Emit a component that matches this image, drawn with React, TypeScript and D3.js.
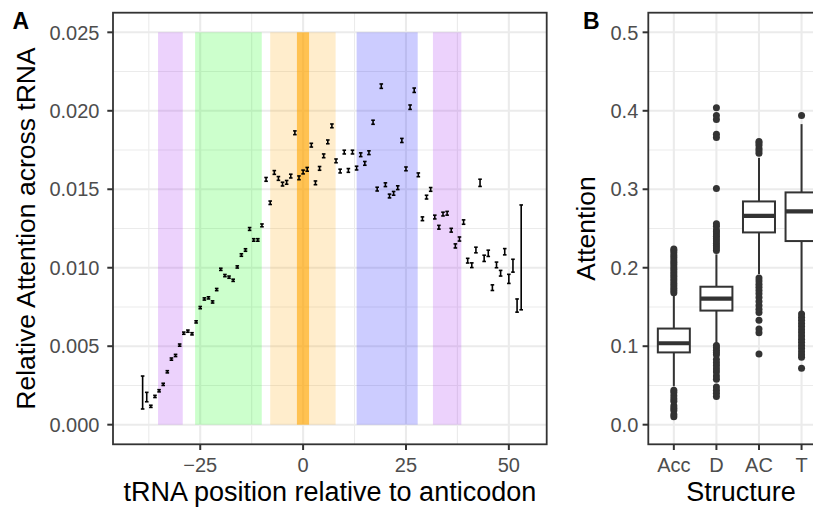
import React from 'react';
import * as d3 from 'd3';

const W = 813;
const H = 507;

// ---------- Panel A data ----------
const positionStart = -39;
const relAttention = [
  0.00205, 0.00176, 0.00117, 0.0018, 0.00216, 0.00257, 0.00337, 0.00418, 0.00441, 0.00507,
  0.00583, 0.00596, 0.00579, 0.00655, 0.00746, 0.00801, 0.00808, 0.00782, 0.00861, 0.0099,
  0.0095, 0.0094, 0.0092, 0.01005, 0.01081, 0.01113, 0.01247, 0.01177, 0.01177, 0.0127,
  0.01563, 0.01414, 0.01607, 0.01569, 0.01533, 0.01544, 0.01584, 0.0186, 0.01573, 0.0161,
  0.01627, 0.01781, 0.01541, 0.01633, 0.01713, 0.01802, 0.01904, 0.01681, 0.01616, 0.01737,
  0.0162, 0.01737, 0.01635, 0.0172, 0.01665, 0.01733, 0.01927, 0.01501, 0.02157, 0.01529,
  0.01457, 0.01474, 0.0151, 0.01811, 0.0163, 0.02023, 0.02131, 0.01592, 0.01312, 0.0145,
  0.01499, 0.01323, 0.01258, 0.01342, 0.01347, 0.01239, 0.01139, 0.01183, 0.01291, 0.01045,
  0.01016, 0.01113, 0.01541, 0.0106, 0.01092, 0.00873, 0.01018, 0.00965, 0.01102, 0.00929,
  0.01013, 0.00759, 0.01066,
];
const relError = [
  0.00105, 0.0003, 0.00007, 0.00007, 0.00007, 0.00007, 0.00007, 0.00007, 0.00007, 0.00007,
  0.00007, 0.00007, 0.00007, 0.00007, 0.00007, 0.00007, 0.00007, 0.00007, 0.00007, 0.00007,
  0.00007, 0.00007, 0.00007, 0.00007, 0.00008, 0.00008, 0.00009, 0.00008, 0.00008, 0.00009,
  0.00012, 0.00011, 0.00012, 0.00012, 0.00012, 0.00012, 0.00012, 0.00012, 0.00012, 0.00012,
  0.00012, 0.00012, 0.00012, 0.00012, 0.00012, 0.00012, 0.00012, 0.00012, 0.00012, 0.00012,
  0.00012, 0.00012, 0.00012, 0.00012, 0.00012, 0.00012, 0.00013, 0.00012, 0.00014, 0.00012,
  0.00012, 0.00012, 0.00012, 0.00013, 0.00012, 0.00014, 0.00014, 0.00012, 0.00012, 0.00012,
  0.00012, 0.00012, 0.00012, 0.00012, 0.00012, 0.00012, 0.00013, 0.00013, 0.00014, 0.00015,
  0.00015, 0.00018, 0.00023, 0.0002, 0.0002, 0.00018, 0.00018, 0.00018, 0.0002, 0.00029,
  0.00041, 0.00042, 0.00334,
];

const xTicksA = [-25, 0, 25, 50];
const xMinorA = [-37.5, -12.5, 12.5, 37.5];
const yTicksA = [0, 0.005, 0.01, 0.015, 0.02, 0.025];
const yMinorA = [0.0025, 0.0075, 0.0125, 0.0175, 0.0225];

// shaded structural regions
const regionStart = [-35.25, -26.25, -8.0, -1.5, 13.0, 31.55];
const regionEnd = [-29.25, -10.05, 7.9, 1.45, 27.85, 38.45];
const regionColor = ['#a020f0', '#00ff00', '#ffa500', '#ffa500', '#0000ff', '#a020f0'];
const regionAlpha = [0.2, 0.2, 0.2, 0.6, 0.2, 0.2];
const regionTop = 0.025;
const regionBottom = 0;

// ---------- Panel B data ----------
const structures = ['Acc', 'D', 'AC', 'T'];
const q1 = [0.0921, 0.1454, 0.245, 0.234];
const median = [0.1038, 0.1607, 0.2662, 0.2718];
const q3 = [0.1225, 0.1758, 0.2845, 0.296];
const whiskerLow = [0.049, 0.104, 0.192, 0.1445];
const whiskerHigh = [0.1645, 0.217, 0.34, 0.383];
const accOutliers = [0.010, 0.013, 0.018, 0.021, 0.024, 0.030, 0.033, 0.037, 0.041, 0.044,
  0.168, 0.171, 0.174, 0.177, 0.180, 0.183, 0.186, 0.189, 0.192, 0.195, 0.198, 0.201, 0.204,
  0.207, 0.210, 0.213, 0.216, 0.219, 0.222, 0.224];
const dOutliers = [0.036, 0.040, 0.044, 0.048, 0.058, 0.062, 0.067, 0.071, 0.075, 0.079,
  0.083, 0.089, 0.092, 0.095, 0.098, 0.101, 0.222, 0.225, 0.228, 0.231, 0.234, 0.237, 0.240,
  0.243, 0.246, 0.248, 0.253, 0.256, 0.301, 0.366, 0.370, 0.389, 0.394, 0.404];
const acOutliers = [0.090, 0.117, 0.122, 0.133, 0.143, 0.147, 0.152, 0.157, 0.162, 0.167,
  0.171, 0.175, 0.179, 0.183, 0.187, 0.346, 0.349, 0.352, 0.356, 0.359, 0.361];
const tOutliers = [0.072, 0.086, 0.089, 0.093, 0.097, 0.101, 0.105, 0.109, 0.113, 0.117,
  0.121, 0.125, 0.129, 0.133, 0.137, 0.141, 0.394];
const outliers = [accOutliers, dOutliers, acOutliers, tOutliers];

const yTicksB = [0, 0.1, 0.2, 0.3, 0.4, 0.5];
const yMinorB = [0.05, 0.15, 0.25, 0.35, 0.45];

// ---------- layout ----------
const A = { left: 113, right: 546.7, top: 12.7, bottom: 444.3 };
const B = { left: 648.3, right: 827.1, top: 12.7, bottom: 444.3 };
const FONT = '"Liberation Sans", Arial, Helvetica, sans-serif';
const GRID = '#ebebeb';
const DARK = '#333333';
const TICKTXT = '#4d4d4d';

export default function App() {
  const xA = d3.scaleLinear().domain([-46.2, 59.2]).range([A.left, A.right]);
  const yA = d3.scaleLinear().domain([-0.00125, 0.02625]).range([A.bottom, A.top]);
  const xB = d3.scalePoint<string>().domain(structures).range([B.left, B.right]).padding(0.6);
  const yB = d3.scaleLinear().domain([-0.025, 0.525]).range([B.bottom, B.top]);
  const fmtA = d3.format('.3f');
  const fmtB = d3.format('.1f');
  const fmtX = d3.format('d');
  const boxW = 32;
  const cap = 1.8;

  const pts = relAttention.map((v, i) => ({ x: positionStart + i, y: v, e: relError[i] }));

  return (
    <svg width={W} height={H} style={{ position: 'absolute', left: 0, top: 0, background: '#fff' }}
      fontFamily={FONT}>
      <rect x={0} y={0} width={W} height={H} fill="#fff" />
      {/* ===== Panel A ===== */}
      <g>
        {xMinorA.map((t) => (
          <line key={'xm' + t} x1={xA(t)} x2={xA(t)} y1={A.top} y2={A.bottom} stroke={GRID} strokeWidth={1.1} />
        ))}
        {yMinorA.map((t) => (
          <line key={'ym' + t} x1={A.left} x2={A.right} y1={yA(t)} y2={yA(t)} stroke={GRID} strokeWidth={1.1} />
        ))}
        {xTicksA.map((t) => (
          <line key={'xM' + t} x1={xA(t)} x2={xA(t)} y1={A.top} y2={A.bottom} stroke={GRID} strokeWidth={2.1} />
        ))}
        {yTicksA.map((t) => (
          <line key={'yM' + t} x1={A.left} x2={A.right} y1={yA(t)} y2={yA(t)} stroke={GRID} strokeWidth={2.1} />
        ))}
        {regionStart.map((s, i) => (
          <rect key={'r' + i} x={xA(s)} width={xA(regionEnd[i]) - xA(s)} y={yA(regionTop)}
            height={yA(regionBottom) - yA(regionTop)} fill={regionColor[i]} fillOpacity={regionAlpha[i]} />
        ))}
        {pts.map((p) => {
          const cx = xA(p.x);
          const y1 = yA(p.y - p.e);
          const y2 = yA(p.y + p.e);
          return (
            <g key={'p' + p.x} stroke="#000" strokeWidth={1.6}>
              <line x1={cx} x2={cx} y1={y1} y2={y2} />
              <line x1={cx - cap} x2={cx + cap} y1={y1} y2={y1} />
              <line x1={cx - cap} x2={cx + cap} y1={y2} y2={y2} />
            </g>
          );
        })}
        <rect x={A.left} y={A.top} width={A.right - A.left} height={A.bottom - A.top} fill="none" stroke={DARK} strokeWidth={1.8} />
        {yTicksA.map((t) => (
          <g key={'yt' + t}>
            <line x1={A.left - 5.7} x2={A.left} y1={yA(t)} y2={yA(t)} stroke={DARK} strokeWidth={2} />
            <text x={A.left - 13.5} y={yA(t)} dy="0.36em" textAnchor="end" fontSize={20} fill={TICKTXT}>{fmtA(t)}</text>
          </g>
        ))}
        {xTicksA.map((t) => (
          <g key={'xt' + t}>
            <line x1={xA(t)} x2={xA(t)} y1={A.bottom} y2={A.bottom + 5.7} stroke={DARK} strokeWidth={2} />
            <text x={xA(t)} y={472} textAnchor="middle" fontSize={20} fill={TICKTXT}>{fmtX(t)}</text>
          </g>
        ))}
        <text x={(A.left + A.right) / 2} y={500.5} textAnchor="middle" fontSize={27} fill="#000">
          tRNA position relative to anticodon
        </text>
        <text transform={`translate(34.5, ${(A.top + A.bottom) / 2}) rotate(-90)`} textAnchor="middle" fontSize={26.5} fill="#000">
          Relative Attention across tRNA
        </text>
        <text x={12.5} y={28.5} fontSize={23} fontWeight="bold" fill="#000">A</text>
      </g>

      {/* ===== Panel B ===== */}
      <g>
        {yMinorB.map((t) => (
          <line key={'bym' + t} x1={B.left} x2={B.right} y1={yB(t)} y2={yB(t)} stroke={GRID} strokeWidth={1.1} />
        ))}
        {yTicksB.map((t) => (
          <line key={'byM' + t} x1={B.left} x2={B.right} y1={yB(t)} y2={yB(t)} stroke={GRID} strokeWidth={2.1} />
        ))}
        {structures.map((s) => (
          <line key={'bxM' + s} x1={xB(s)} x2={xB(s)} y1={B.top} y2={B.bottom} stroke={GRID} strokeWidth={2.1} />
        ))}
        {structures.map((s, i) => {
          const cx = xB(s) as number;
          return (
            <g key={'box' + s}>
              <line x1={cx} x2={cx} y1={yB(q3[i])} y2={yB(whiskerHigh[i])} stroke={DARK} strokeWidth={2} />
              <line x1={cx} x2={cx} y1={yB(q1[i])} y2={yB(whiskerLow[i])} stroke={DARK} strokeWidth={2} />
              <rect x={cx - boxW / 2} width={boxW} y={yB(q3[i])} height={yB(q1[i]) - yB(q3[i])}
                fill="#fff" stroke={DARK} strokeWidth={2} />
              <line x1={cx - boxW / 2} x2={cx + boxW / 2} y1={yB(median[i])} y2={yB(median[i])} stroke={DARK} strokeWidth={4.2} />
              {outliers[i].map((o, j) => (
                <circle key={j} cx={cx} cy={yB(o)} r={3.5} fill={DARK} />
              ))}
            </g>
          );
        })}
        <rect x={B.left} y={B.top} width={B.right - B.left} height={B.bottom - B.top} fill="none" stroke={DARK} strokeWidth={1.8} />
        {yTicksB.map((t) => (
          <g key={'byt' + t}>
            <line x1={B.left - 5.7} x2={B.left} y1={yB(t)} y2={yB(t)} stroke={DARK} strokeWidth={2} />
            <text x={B.left - 10} y={yB(t)} dy="0.36em" textAnchor="end" fontSize={20} fill={TICKTXT}>{fmtB(t)}</text>
          </g>
        ))}
        {structures.map((s) => (
          <g key={'bxt' + s}>
            <line x1={xB(s)} x2={xB(s)} y1={B.bottom} y2={B.bottom + 5.7} stroke={DARK} strokeWidth={2} />
            <text x={xB(s)} y={472} textAnchor="middle" fontSize={20} fill={TICKTXT}>{s}</text>
          </g>
        ))}
        <text x={741} y={500.5} textAnchor="middle" fontSize={27} fill="#000">Structure</text>
        <text transform={`translate(594.5, ${(B.top + B.bottom) / 2}) rotate(-90)`} textAnchor="middle" fontSize={26.5} fill="#000">
          Attention
        </text>
        <text x={583} y={28.5} fontSize={23} fontWeight="bold" fill="#000">B</text>
      </g>
    </svg>
  );
}
